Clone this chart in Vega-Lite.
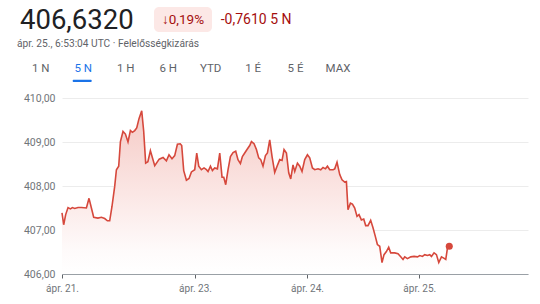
{
  "$schema": "https://vega.github.io/schema/vega-lite/v6.json",
  "width": 466,
  "height": 176,
  "autosize": {"type": "none"},
  "padding": {"left": 62, "top": 98, "right": 12, "bottom": 30},
  "background": "white",
  "config": {"view": {"stroke": null}, "font": "Roboto", "text": {"font": "Roboto"}},
  "layer": [
    {
      "data": {"values": [
        {"t": 0, "v": 407.39}, {"t": 0.36, "v": 407.12}, {"t": 0.79, "v": 407.35}, {"t": 1.29, "v": 407.51},
        {"t": 1.8, "v": 407.48}, {"t": 2.23, "v": 407.51}, {"t": 2.72, "v": 407.49}, {"t": 3.43, "v": 407.51},
        {"t": 4.16, "v": 407.51}, {"t": 5.23, "v": 407.5}, {"t": 5.79, "v": 407.72}, {"t": 6.3, "v": 407.5},
        {"t": 6.79, "v": 407.29}, {"t": 7.71, "v": 407.27}, {"t": 8.44, "v": 407.29}, {"t": 9.15, "v": 407.26},
        {"t": 9.73, "v": 407.21}, {"t": 10.22, "v": 407.21}, {"t": 10.72, "v": 407.54}, {"t": 11.29, "v": 407.99},
        {"t": 11.66, "v": 408.37}, {"t": 12.15, "v": 408.45}, {"t": 12.52, "v": 409.01}, {"t": 13.07, "v": 409.24},
        {"t": 13.59, "v": 409.18}, {"t": 14.14, "v": 409.0}, {"t": 14.66, "v": 409.26}, {"t": 15.09, "v": 409.22},
        {"t": 15.58, "v": 409.26}, {"t": 16.01, "v": 409.32}, {"t": 16.5, "v": 409.53}, {"t": 17.08, "v": 409.71},
        {"t": 17.5, "v": 409.25}, {"t": 17.93, "v": 408.52}, {"t": 18.4, "v": 408.55}, {"t": 18.94, "v": 408.8},
        {"t": 19.87, "v": 408.46}, {"t": 20.83, "v": 408.61}, {"t": 21.65, "v": 408.65}, {"t": 22.37, "v": 408.57},
        {"t": 22.93, "v": 408.71}, {"t": 23.57, "v": 408.62}, {"t": 24.15, "v": 408.69}, {"t": 24.73, "v": 408.95},
        {"t": 25.33, "v": 408.96}, {"t": 25.65, "v": 408.92}, {"t": 26.08, "v": 408.35}, {"t": 26.66, "v": 408.13},
        {"t": 27.22, "v": 408.17}, {"t": 27.73, "v": 408.32}, {"t": 28.44, "v": 408.37}, {"t": 28.87, "v": 408.75},
        {"t": 29.3, "v": 408.45}, {"t": 29.87, "v": 408.37}, {"t": 30.43, "v": 408.41}, {"t": 30.95, "v": 408.37},
        {"t": 31.29, "v": 408.33}, {"t": 31.81, "v": 408.45}, {"t": 32.23, "v": 408.35}, {"t": 32.72, "v": 408.41},
        {"t": 33.3, "v": 408.39}, {"t": 33.8, "v": 408.75}, {"t": 34.29, "v": 408.2}, {"t": 34.66, "v": 408.2},
        {"t": 35.08, "v": 408.03}, {"t": 35.58, "v": 408.37}, {"t": 36.09, "v": 408.67}, {"t": 36.65, "v": 408.76},
        {"t": 37.22, "v": 408.79}, {"t": 37.71, "v": 408.6}, {"t": 38.23, "v": 408.51}, {"t": 38.65, "v": 408.67},
        {"t": 39.15, "v": 408.75}, {"t": 39.64, "v": 408.83}, {"t": 40.22, "v": 408.92}, {"t": 40.59, "v": 409.01},
        {"t": 41.15, "v": 408.96}, {"t": 41.66, "v": 408.83}, {"t": 42.15, "v": 408.64}, {"t": 42.58, "v": 408.6},
        {"t": 43.07, "v": 408.45}, {"t": 43.59, "v": 408.69}, {"t": 44.02, "v": 408.75}, {"t": 44.51, "v": 409.05},
        {"t": 45.01, "v": 408.67}, {"t": 45.58, "v": 408.31}, {"t": 46.08, "v": 408.45}, {"t": 46.65, "v": 408.6},
        {"t": 47.15, "v": 408.58}, {"t": 47.58, "v": 408.83}, {"t": 48.09, "v": 408.75}, {"t": 48.58, "v": 408.3},
        {"t": 49.01, "v": 408.16}, {"t": 49.5, "v": 408.48}, {"t": 49.87, "v": 408.33}, {"t": 50.45, "v": 408.52},
        {"t": 50.94, "v": 408.45}, {"t": 51.43, "v": 408.33}, {"t": 52.01, "v": 408.6}, {"t": 52.59, "v": 408.71},
        {"t": 53.08, "v": 408.64}, {"t": 53.66, "v": 408.41}, {"t": 54.16, "v": 408.37}, {"t": 54.86, "v": 408.39},
        {"t": 55.44, "v": 408.37}, {"t": 55.93, "v": 408.42}, {"t": 56.45, "v": 408.39}, {"t": 56.88, "v": 408.45},
        {"t": 57.37, "v": 408.37}, {"t": 58.08, "v": 408.37}, {"t": 58.44, "v": 408.39}, {"t": 58.93, "v": 408.54},
        {"t": 59.51, "v": 408.26}, {"t": 60.0, "v": 408.14}, {"t": 60.58, "v": 408.09}, {"t": 60.94, "v": 408.1},
        {"t": 61.28, "v": 407.46}, {"t": 61.8, "v": 407.61}, {"t": 62.23, "v": 407.59}, {"t": 62.72, "v": 407.5},
        {"t": 63.21, "v": 407.31}, {"t": 63.64, "v": 407.35}, {"t": 64.15, "v": 407.23}, {"t": 64.65, "v": 407.25},
        {"t": 65.07, "v": 407.1}, {"t": 65.57, "v": 407.1}, {"t": 66.14, "v": 407.22}, {"t": 66.64, "v": 407.05},
        {"t": 67.15, "v": 406.85}, {"t": 67.58, "v": 406.67}, {"t": 68.08, "v": 406.63}, {"t": 68.57, "v": 406.26},
        {"t": 69.0, "v": 406.44}, {"t": 69.51, "v": 406.51}, {"t": 70.0, "v": 406.61}, {"t": 70.43, "v": 406.48},
        {"t": 71.29, "v": 406.48}, {"t": 72.0, "v": 406.46}, {"t": 72.58, "v": 406.39}, {"t": 73.07, "v": 406.33},
        {"t": 73.44, "v": 406.39}, {"t": 74.02, "v": 406.35}, {"t": 74.73, "v": 406.39}, {"t": 75.44, "v": 406.4},
        {"t": 76.17, "v": 406.39}, {"t": 76.66, "v": 406.42}, {"t": 77.24, "v": 406.4}, {"t": 77.73, "v": 406.44},
        {"t": 78.31, "v": 406.42}, {"t": 78.8, "v": 406.44}, {"t": 79.16, "v": 406.4}, {"t": 79.72, "v": 406.48},
        {"t": 80.23, "v": 406.44}, {"t": 80.73, "v": 406.26}, {"t": 81.31, "v": 406.39}, {"t": 81.8, "v": 406.36},
        {"t": 82.23, "v": 406.33}, {"t": 82.59, "v": 406.59}, {"t": 82.98, "v": 406.632}
      ]},
      "layer": [
        {
          "mark": {"type": "area", "line": false, "color": {"gradient": "linear", "x1": 0, "y1": 0, "x2": 0, "y2": 1, "stops": [{"offset": 0, "color": "#f5cac5"}, {"offset": 0.5, "color": "#fbe6e4"}, {"offset": 0.85, "color": "#fefafa"}, {"offset": 1, "color": "#ffffff"}]}},
          "encoding": {
            "x": {"field": "t", "type": "quantitative", "scale": {"domain": [0, 99.85], "nice": false, "zero": false},
              "axis": {"values": [0, 28.5, 52.5, 76.55], "labelExpr": "datum.value < 10 ? 'ápr. 21.' : datum.value < 40 ? 'ápr. 23.' : datum.value < 60 ? 'ápr. 24.' : 'ápr. 25.'", "grid": false, "title": null, "domainColor": "#9aa0a6", "tickColor": "#5f6368", "tickSize": 4, "labelFontSize": 10, "labelColor": "#70757a", "labelPadding": 5, "labelFlush": false, "labelFont": "Roboto", "zindex": 1}},
            "y": {"field": "v", "type": "quantitative", "scale": {"domain": [406, 410], "nice": false, "zero": false},
              "axis": {"values": [406, 407, 408, 409, 410], "labelExpr": "replace(format(datum.value, '.2f'), '.', ',')", "domain": false, "ticks": false, "title": null, "gridColor": "#ececec", "labelPadding": 7, "labelFontSize": 10.5, "labelColor": "#70757a", "labelFont": "Roboto"}},
            "y2": {"datum": 406}
          }
        },
        {
          "mark": {"type": "line", "color": "#d6483c", "strokeWidth": 1.6},
          "encoding": {
            "x": {"field": "t", "type": "quantitative"},
            "y": {"field": "v", "type": "quantitative"}
          }
        },
        {
          "transform": [{"filter": "datum.t > 82.9"}],
          "mark": {"type": "point", "filled": true, "color": "#d6483c", "size": 50, "opacity": 1},
          "encoding": {
            "x": {"field": "t", "type": "quantitative"},
            "y": {"field": "v", "type": "quantitative"}
          }
        }
      ]
    },
    {
      "data": {"values": [{"label": "406,6320"}]},
      "mark": {"type": "text", "align": "left", "baseline": "alphabetic", "fontSize": 27.5, "color": "#202124"},
      "encoding": {"text": {"field": "label"}, "x": {"value": -42}, "y": {"value": -69.5}}
    },
    {
      "data": {"values": [{"label": "↓0,19%"}]},
      "layer": [
        {"mark": {"type": "rect", "color": "#fce8e6", "cornerRadius": 5}, "encoding": {"x": {"value": 92}, "x2": {"value": 150}, "y": {"value": -91}, "y2": {"value": -66}}},
        {"mark": {"type": "text", "align": "center", "baseline": "alphabetic", "fontSize": 13.5, "color": "#a50e0e"}, "encoding": {"text": {"field": "label"}, "x": {"value": 121}, "y": {"value": -74.5}}}
      ]
    },
    {
      "data": {"values": [{"label": "-0,7610 5 N"}]},
      "mark": {"type": "text", "align": "left", "baseline": "alphabetic", "fontSize": 14, "color": "#a50e0e"},
      "encoding": {"text": {"field": "label"}, "x": {"value": 158.7}, "y": {"value": -74.5}}
    },
    {
      "data": {"values": [{"label": "ápr. 25., 6:53:04 UTC · Felelősségkizárás"}]},
      "mark": {"type": "text", "align": "left", "baseline": "alphabetic", "fontSize": 10.2, "color": "#5f6368"},
      "encoding": {"text": {"field": "label"}, "x": {"value": -45}, "y": {"value": -50.8}}
    },
    {
      "data": {"values": [{"tab": "1 N"}, {"tab": "5 N"}, {"tab": "1 H"}, {"tab": "6 H"}, {"tab": "YTD"}, {"tab": "1 É"}, {"tab": "5 É"}, {"tab": "MAX"}]},
      "mark": {"type": "text", "align": "center", "baseline": "alphabetic", "fontSize": 11.5},
      "encoding": {
        "text": {"field": "tab"},
        "x": {"field": "tab", "type": "nominal", "sort": null, "scale": {"type": "point", "domain": ["1 N", "5 N", "1 H", "6 H", "YTD", "1 É", "5 É", "MAX"], "range": [-21.2, 276], "padding": 0}, "axis": null},
        "y": {"value": -25.6},
        "color": {"condition": {"test": "datum.tab === '5 N'", "value": "#1a73e8"}, "value": "#5f6368"}
      }
    },
    {
      "data": {"values": [{"tab": "5 N"}]},
      "mark": {"type": "rect", "color": "#1a73e8", "cornerRadius": 1},
      "encoding": {"x": {"value": 10.7}, "x2": {"value": 29.7}, "y": {"value": -18.3}, "y2": {"value": -16}}
    }
  ],
  "resolve": {"scale": {"x": "independent"}}
}
